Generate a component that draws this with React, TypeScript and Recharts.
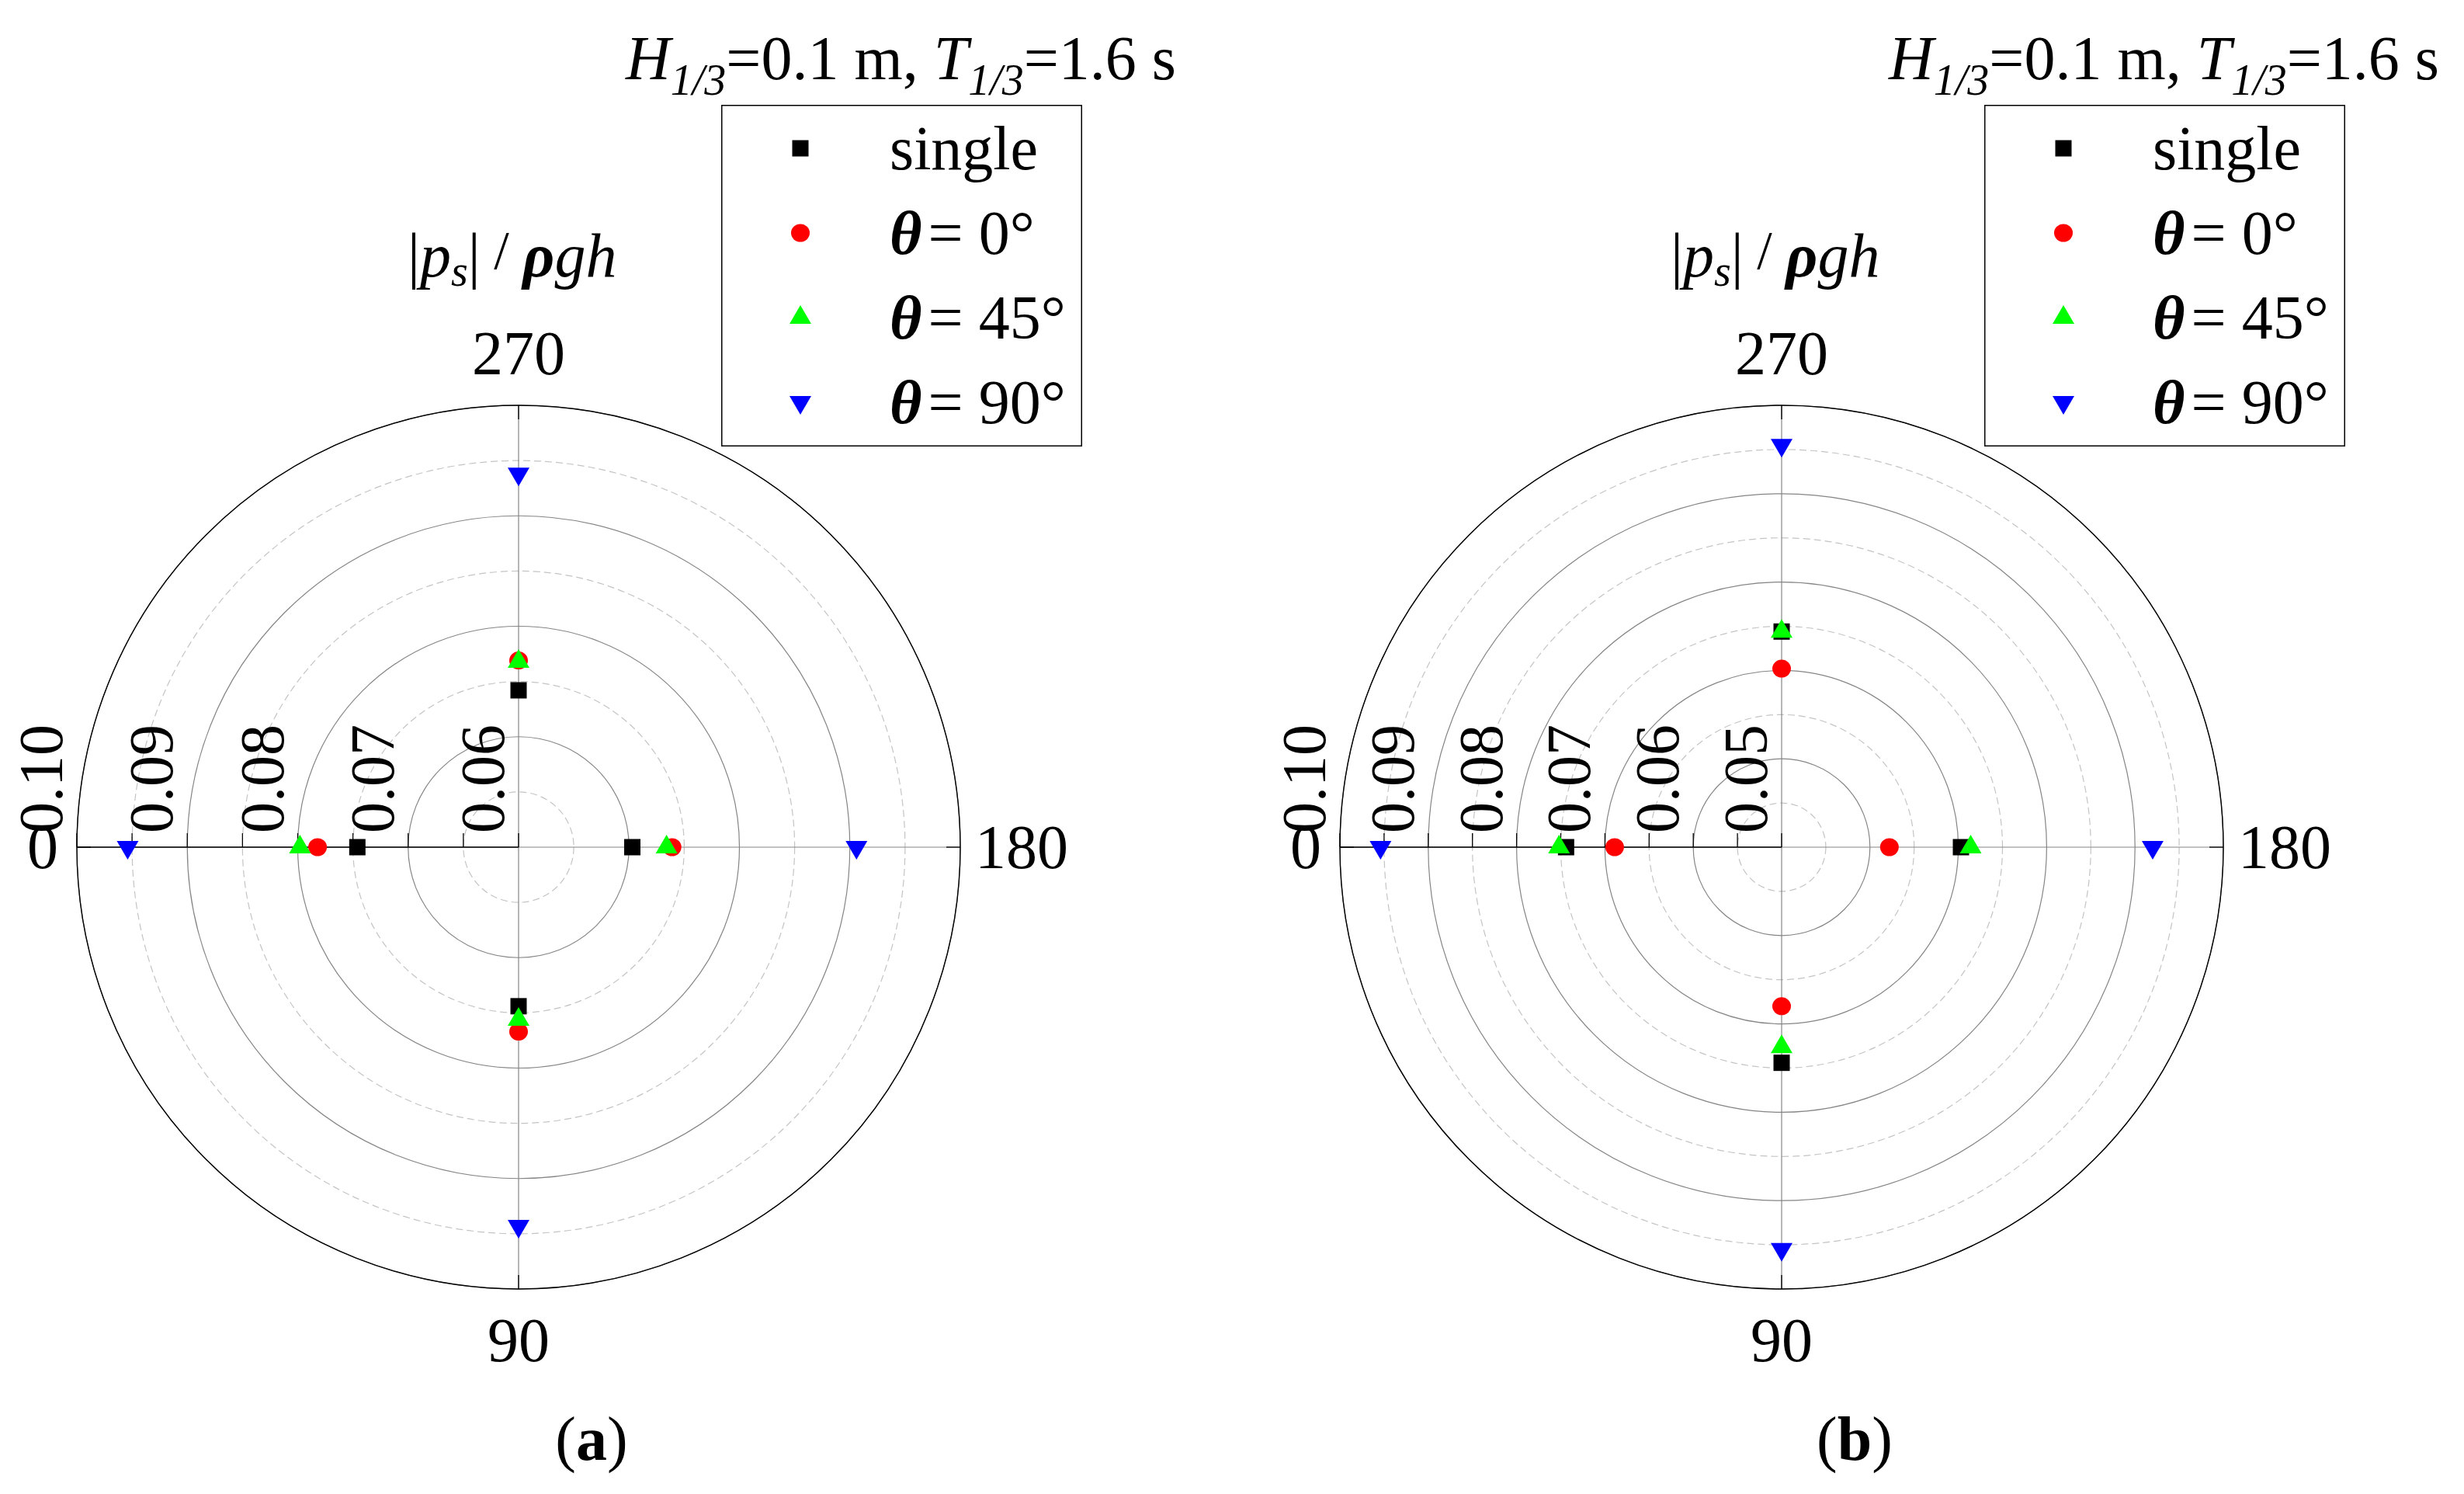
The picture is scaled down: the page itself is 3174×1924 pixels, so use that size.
import React from 'react';
import {
  RadarChart,
  Radar,
  PolarGrid,
  PolarAngleAxis,
  PolarRadiusAxis,
  Legend,
  Customized,
} from 'recharts';

// ---------- data ----------
// angular categories, listed in drawing order (clockwise from the left)
const angleLabels = ['0', '270', '180', '90'];

const seriesKeys = ['single', 'theta0', 'theta45', 'theta90'];
const seriesNames = ['single', 'θ = 0°', 'θ = 45°', 'θ = 90°'];
const seriesColors = ['#000000', '#ff0000', '#00ff00', '#0000ff'];
const seriesShapes = ['square', 'circle', 'triangle', 'triangleDown'];

// panel (a)  (values at angles 0, 270, 180, 90)
const singleA = [0.0746, 0.0742, 0.0703, 0.0744];
const theta0A = [0.0782, 0.0769, 0.0739, 0.0767];
const theta45A = [0.0798, 0.0768, 0.0734, 0.0756];
const theta90A = [0.0954, 0.0938, 0.0906, 0.0943];

// panel (b)  (values at angles 0, 270, 180, 90)
const singleB = [0.0744, 0.0744, 0.0703, 0.0744];
const theta0B = [0.0689, 0.0702, 0.0622, 0.068];
const theta45B = [0.0752, 0.0744, 0.0714, 0.0726];
const theta90B = [0.0954, 0.0955, 0.092, 0.0955];

// radial axis: value at the centre, value at the rim, ticks
const radialMinA = 0.06;
const radialMaxA = 0.1;
const radiusTicksA = [0.06, 0.065, 0.07, 0.075, 0.08, 0.085, 0.09, 0.095, 0.1];
const majorTicksA = [0.07, 0.08, 0.09, 0.1];
const minorTicksA = [0.065, 0.075, 0.085, 0.095];

const radialMinB = 0.05;
const radialMaxB = 0.1;
const radiusTicksB = [0.05, 0.055, 0.06, 0.065, 0.07, 0.075, 0.08, 0.085, 0.09, 0.095, 0.1];
const majorTicksB = [0.06, 0.07, 0.08, 0.09, 0.1];
const minorTicksB = [0.055, 0.065, 0.075, 0.085, 0.095];

// ---------- layout ----------
const FONT = "'Liberation Serif', 'Times New Roman', Times, serif";
const FS = 80;
const PANEL_W = 1587;
const PANEL_H = 1924;
const CY = 1091;
const R = 569;
const TICK = 18;

// Recharts' radar radius axis always starts at 0, so values are measured from the centre value
const shift = (v: number, base: number) => +(v - base).toFixed(6);

const buildRows = (s: number[], t0: number[], t45: number[], t90: number[], base: number) =>
  angleLabels.map((angle, i) => ({
    angle,
    single: shift(s[i], base),
    theta0: shift(t0[i], base),
    theta45: shift(t45[i], base),
    theta90: shift(t90[i], base),
  }));

const rowsA = buildRows(singleA, theta0A, theta45A, theta90A, radialMinA);
const rowsB = buildRows(singleB, theta0B, theta45B, theta90B, radialMinB);

// ---------- markers ----------
const Marker = ({ shape, color, x, y }: { shape: string; color: string; x: number; y: number }) => {
  if (x == null || y == null || isNaN(x) || isNaN(y)) return null;
  if (shape === 'square') {
    const s = 21;
    return <rect x={x - s / 2} y={y - s / 2} width={s} height={s} fill={color} />;
  }
  if (shape === 'circle') {
    return <ellipse cx={x} cy={y} rx={12} ry={11.5} fill={color} />;
  }
  const w = 28;
  const h = 24;
  if (shape === 'triangle') {
    const pts = `${x},${y - (2 * h) / 3} ${x - w / 2},${y + h / 3} ${x + w / 2},${y + h / 3}`;
    return <polygon points={pts} fill={color} />;
  }
  const pts = `${x},${y + (2 * h) / 3} ${x - w / 2},${y - h / 3} ${x + w / 2},${y - h / 3}`;
  return <polygon points={pts} fill={color} />;
};

// ---------- ticks ----------
const makeRadiusTick = (base: number) => (props: any) => {
  const { x, y, payload } = props;
  const v = (payload.value as number) + base;
  const major = Math.abs(v * 100 - Math.round(v * 100)) < 1e-6;
  const px = x - 19;
  const py = y - TICK;
  return (
    <g>
      <line x1={x} y1={y} x2={x} y2={y - TICK} stroke="#000" strokeWidth={1.3} />
      {major && (
        <text
          x={px}
          y={py}
          transform={`rotate(-90 ${px} ${py})`}
          fontFamily={FONT}
          fontSize={FS}
          fill="#000"
          textAnchor="start"
        >
          {v.toFixed(2)}
        </text>
      )}
    </g>
  );
};

const angleTick = (props: any) => {
  const { x, y, payload } = props;
  const a = (payload.coordinate * Math.PI) / 180;
  const ux = Math.cos(-a);
  const uy = Math.sin(-a);
  const ex = x + ux * TICK;
  const ey = y + uy * TICK;
  let tx = ex;
  let ty = ey;
  let anchor: any = 'middle';
  if (Math.abs(ux) > 0.5) {
    if (ux < 0) {
      tx = ex - 24;
      anchor = 'end';
    } else {
      tx = ex + 19;
      anchor = 'start';
    }
    ty = ey + 27;
  } else if (uy < 0) {
    ty = ey - 40;
  } else {
    ty = ey + 93;
  }
  return (
    <text x={tx} y={ty} textAnchor={anchor} fontFamily={FONT} fontSize={FS} fill="#000">
      {payload.value}
    </text>
  );
};

// ---------- legend ----------
const LEG_W = 465;
const LEG_H = 440;

const LegendName = ({ name, x, y }: { name: string; x: number; y: number }) => {
  if (name.startsWith('θ')) {
    return (
      <text x={x} y={y} fontFamily={FONT} fontSize={FS} fill="#000" style={{ whiteSpace: 'pre' }}>
        <tspan fontStyle="italic" fontWeight="bold">θ</tspan>
        <tspan dx={8}>{name.slice(2)}</tspan>
      </text>
    );
  }
  return (
    <text x={x} y={y} fontFamily={FONT} fontSize={FS} fill="#000">
      {name}
    </text>
  );
};

const LegendBox = (props: any) => {
  const payload = props.payload || [];
  return (
    <svg width={LEG_W} height={LEG_H} style={{ display: 'block' }}>
      <rect x={0.75} y={0.75} width={LEG_W - 1.5} height={LEG_H - 1.5} fill="#fff" stroke="#000" strokeWidth={1.5} />
      {payload.map((item: any, i: number) => {
        const idx = seriesKeys.indexOf(item.dataKey);
        const k = idx >= 0 ? idx : i;
        return (
          <g key={seriesKeys[k]}>
            <Marker shape={seriesShapes[k]} color={seriesColors[k]} x={102} y={56 + i * 109} />
            <LegendName name={seriesNames[k]} x={217} y={83 + i * 109} />
          </g>
        );
      })}
    </svg>
  );
};

// ---------- annotations ----------
const Annotations = ({ cx, label }: { cx: number; label: string }) => (
  <g fontFamily={FONT} fill="#000">
    <text x={cx + 138} y={102} fontSize={FS} style={{ whiteSpace: 'pre' }}>
      <tspan fontStyle="italic">H</tspan>
      <tspan fontStyle="italic" fontSize={56} dy={20}>1/3</tspan>
      <tspan dy={-20}>=0.1 m, </tspan>
      <tspan fontStyle="italic">T</tspan>
      <tspan fontStyle="italic" fontSize={56} dy={20}>1/3</tspan>
      <tspan dy={-20}>=1.6 s</tspan>
    </text>
    <text x={cx - 143} y={356} fontSize={FS} style={{ whiteSpace: 'pre' }}>
      <tspan>|</tspan>
      <tspan fontStyle="italic">p</tspan>
      <tspan fontStyle="italic" fontSize={56} dy={12}>s</tspan>
      <tspan dy={-12}>|</tspan>
      <tspan fontSize={70} dy={-10}> / </tspan>
      <tspan dy={10} fontStyle="italic" fontWeight="bold">ρ</tspan>
      <tspan fontStyle="italic">gh</tspan>
    </text>
    <text x={cx + 94} y={1880} fontSize={FS} textAnchor="middle">
      <tspan>(</tspan>
      <tspan fontWeight="bold">{label}</tspan>
      <tspan>)</tspan>
    </text>
  </g>
);

// ---------- panel ----------
type PanelProps = {
  rows: any[];
  min: number;
  max: number;
  ticks: number[];
  major: number[];
  minor: number[];
  cx: number;
  label: string;
  left: number;
};

const Panel = ({ rows, min, max, ticks, major, minor, cx, label, left }: PanelProps) => {
  const domain = [0, shift(max, min)];
  const tk = ticks.map((t) => shift(t, min));
  const mj = major.map((t) => shift(t, min));
  const mn = minor.map((t) => shift(t, min));
  return (
    <div style={{ position: 'absolute', left, top: 0, width: PANEL_W, height: PANEL_H }}>
      <RadarChart
        width={PANEL_W}
        height={PANEL_H}
        cx={cx}
        cy={CY}
        outerRadius={R}
        innerRadius={0}
        startAngle={180}
        endAngle={-180}
        data={rows}
        margin={{ top: 0, right: 0, bottom: 0, left: 0 }}
      >
        <PolarRadiusAxis
          radiusAxisId="minor"
          type="number"
          domain={domain}
          allowDataOverflow
          ticks={mn}
          tick={false}
          axisLine={false}
        />
        <PolarRadiusAxis
          radiusAxisId="major"
          type="number"
          domain={domain}
          allowDataOverflow
          ticks={mj}
          tick={false}
          axisLine={false}
        />
        <PolarGrid
          radiusAxisId="minor"
          gridType="circle"
          radialLines={false}
          stroke="#c4c4c4"
          strokeWidth={1.2}
          strokeDasharray="9 5"
        />
        <PolarGrid radiusAxisId="major" gridType="circle" radialLines={true} stroke="#858585" strokeWidth={1.2} />
        <PolarAngleAxis
          dataKey="angle"
          axisLineType="circle"
          axisLine={{ stroke: '#000', strokeWidth: 1.4 }}
          tickLine={{ stroke: '#000', strokeWidth: 1.3 }}
          orientation="inner"
          tickSize={TICK}
          tick={angleTick}
        />
        <PolarRadiusAxis
          angle={180}
          type="number"
          domain={domain}
          allowDataOverflow
          ticks={tk}
          axisLine={{ stroke: '#000', strokeWidth: 1.4 }}
          tick={makeRadiusTick(min)}
        />
        {seriesKeys.map((key, i) => (
          <Radar
            key={key}
            dataKey={key}
            name={seriesNames[i]}
            stroke="none"
            fill="none"
            fillOpacity={0}
            isAnimationActive={false}
            dot={(p: any) => (
              <Marker key={`${key}-${p.index}`} shape={seriesShapes[i]} color={seriesColors[i]} x={p.cx} y={p.cy} />
            )}
          />
        ))}
        <Legend
          layout="vertical"
          align="center"
          verticalAlign="middle"
          content={LegendBox}
          wrapperStyle={{ left: cx + 261, top: 135, width: LEG_W, height: LEG_H }}
        />
        <Customized component={() => <Annotations cx={cx} label={label} />} />
      </RadarChart>
    </div>
  );
};

export default function App() {
  return (
    <div
      style={{
        position: 'absolute',
        left: 0,
        top: 0,
        width: 3174,
        height: 1924,
        background: '#ffffff',
        overflow: 'hidden',
      }}
    >
      <Panel
        rows={rowsA}
        min={radialMinA}
        max={radialMaxA}
        ticks={radiusTicksA}
        major={majorTicksA}
        minor={minorTicksA}
        cx={668}
        label="a"
        left={0}
      />
      <Panel
        rows={rowsB}
        min={radialMinB}
        max={radialMaxB}
        ticks={radiusTicksB}
        major={majorTicksB}
        minor={minorTicksB}
        cx={2295 - PANEL_W}
        label="b"
        left={PANEL_W}
      />
    </div>
  );
}
